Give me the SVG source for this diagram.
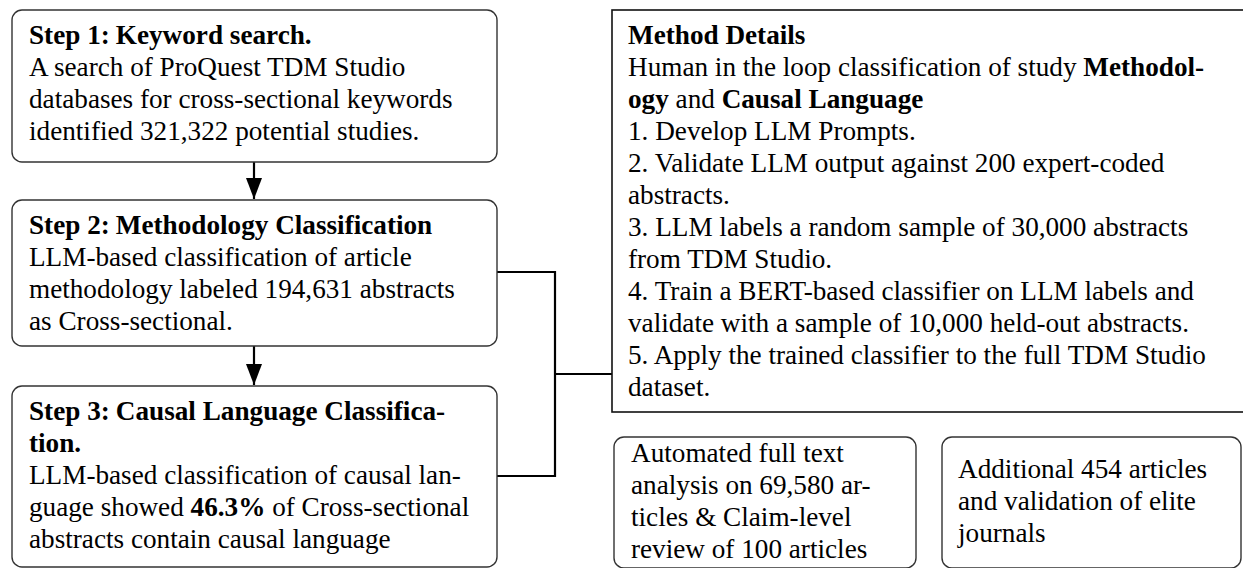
<svg xmlns="http://www.w3.org/2000/svg" width="1243" height="568" viewBox="0 0 1243 568">
<style>
  .box { fill: #ffffff; stroke: #333333; stroke-width: 1.4; }
  .sq { fill: #ffffff; stroke: #111111; stroke-width: 1.6; }
  .t { font-family: "Liberation Serif", "Times New Roman", serif; font-size: 27.2px; fill: #000000; }
  .b { font-weight: bold; }
  .conn { fill: none; stroke: #000000; stroke-width: 2.2; }
</style>
<defs>
  <marker id="arr" viewBox="0 0 21 16" refX="21" refY="8" markerWidth="21" markerHeight="16" markerUnits="userSpaceOnUse" orient="auto">
    <path d="M0,0 L21,8 L0,16 Z" fill="#000000"/>
  </marker>
</defs>
<rect width="1243" height="568" fill="#ffffff"/>

<g id="connectors">
  <path class="conn" d="M254,162 V199" marker-end="url(#arr)"/>
  <path class="conn" d="M254,346 V385" marker-end="url(#arr)"/>
  <path class="conn" d="M497,272 H555 V476 H497"/>
  <path class="conn" d="M555,374 H612"/>
</g>

<g id="step1">
  <rect class="box" x="12" y="10" width="485" height="152" rx="10"/>
  <text class="t" x="29" y="44"><tspan class="b">Step 1:</tspan><tspan class="b" dx="6">Keyword search.</tspan></text>
  <text class="t" x="29" y="76">A search of ProQuest TDM Studio</text>
  <text class="t" x="29" y="108">databases for cross-sectional keywords</text>
  <text class="t" x="29" y="140">identified 321,322 potential studies.</text>
</g>

<g id="step2">
  <rect class="box" x="12" y="200" width="485" height="146" rx="10"/>
  <text class="t" x="29" y="234"><tspan class="b">Step 2:</tspan><tspan class="b" dx="6">Methodology Classification</tspan></text>
  <text class="t" x="29" y="266">LLM-based classification of article</text>
  <text class="t" x="29" y="298">methodology labeled 194,631 abstracts</text>
  <text class="t" x="29" y="330">as Cross-sectional.</text>
</g>

<g id="step3">
  <rect class="box" x="12" y="386" width="485" height="181" rx="10"/>
  <text class="t" x="29" y="420"><tspan class="b">Step 3:</tspan><tspan class="b" dx="6">Causal Language Classifica-</tspan></text>
  <text class="t b" x="29" y="452">tion.</text>
  <text class="t" x="29" y="484">LLM-based classification of causal lan-</text>
  <text class="t" x="29" y="516">guage showed <tspan class="b">46.3%</tspan> of Cross-sectional</text>
  <text class="t" x="29" y="548">abstracts contain causal language</text>
</g>

<g id="method">
  <rect class="sq" x="612" y="10" width="650" height="402"/>
  <text class="t b" x="628" y="44">Method Details</text>
  <text class="t" x="628" y="76">Human in the loop classification of study <tspan class="b">Methodol-</tspan></text>
  <text class="t" x="628" y="108"><tspan class="b">ogy</tspan> and <tspan class="b">Causal Language</tspan></text>
  <text class="t" x="628" y="140">1.  Develop LLM Prompts.</text>
  <text class="t" x="628" y="172">2.  Validate LLM output against 200 expert-coded</text>
  <text class="t" x="628" y="204">abstracts.</text>
  <text class="t" x="628" y="236">3.  LLM labels a random sample of 30,000 abstracts</text>
  <text class="t" x="628" y="268">from TDM Studio.</text>
  <text class="t" x="628" y="300">4.  Train a BERT-based classifier on LLM labels and</text>
  <text class="t" x="628" y="332">validate with a sample of 10,000 held-out abstracts.</text>
  <text class="t" x="628" y="364">5.  Apply the trained classifier to the full TDM Studio</text>
  <text class="t" x="628" y="396">dataset.</text>
</g>

<g id="fulltext">
  <rect class="box" x="614" y="437" width="302" height="131" rx="10"/>
  <text class="t" x="631" y="462">Automated full text</text>
  <text class="t" x="631" y="494">analysis on 69,580 ar-</text>
  <text class="t" x="631" y="526">ticles &amp; Claim-level</text>
  <text class="t" x="631" y="558">review of 100 articles</text>
</g>

<g id="elite">
  <rect class="box" x="942" y="437" width="299" height="131" rx="10"/>
  <text class="t" x="958" y="478">Additional 454 articles</text>
  <text class="t" x="958" y="510">and validation of elite</text>
  <text class="t" x="958" y="542">journals</text>
</g>
</svg>
